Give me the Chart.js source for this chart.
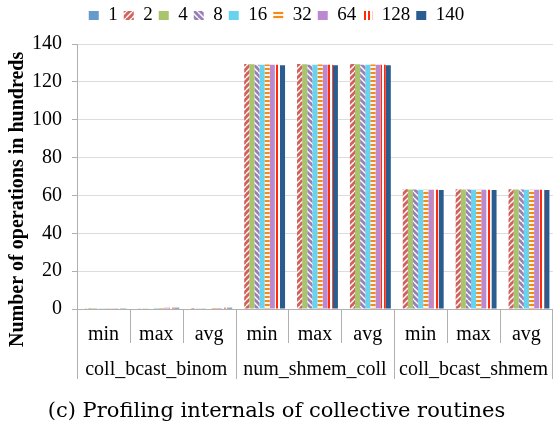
<!DOCTYPE html>
<html>
<head>
<meta charset="utf-8">
<script src="https://cdn.jsdelivr.net/npm/chart.js@4.4.0/dist/chart.umd.min.js"></script>
<style>
  html, body { margin: 0; padding: 0; background: #fff; }
  #wrap { width: 553px; height: 421px; }
</style>
</head>
<body>
<div id="wrap"><canvas id="chart"></canvas></div>
<script>
// categories (inner row) and groups (outer row)
const categories = ['min', 'max', 'avg', 'min', 'max', 'avg', 'min', 'max', 'avg'];
const groups = ['coll_bcast_binom', 'num_shmem_coll', 'coll_bcast_shmem'];
const seriesNames = ['1', '2', '4', '8', '16', '32', '64', '128', '140'];

// values per process count, in hundreds of operations
const p1   = [0,    0,    0,    0,     0,     0,     0,    0,    0];
const p2   = [0.05, 0.1,  0.05, 129.5, 129.4, 129.5, 63.2, 63.2, 63.2];
const p4   = [0.05, 0.15, 0.1,  129.3, 129.3, 129.3, 63.1, 63.1, 63.1];
const p8   = [0.1,  0.2,  0.15, 129.1, 129.1, 129.1, 63.1, 63.1, 63.1];
const p16  = [0.1,  0.5,  0.3,  129.0, 129.0, 129.0, 63.0, 63.0, 63.0];
const p32  = [0.1,  0.6,  0.5,  129.2, 129.2, 129.2, 63.0, 63.0, 63.0];
const p64  = [0.15, 0.6,  0.5,  129.0, 129.0, 129.0, 63.0, 63.0, 63.0];
const p128 = [0.15, 0.7,  0.6,  129.0, 129.0, 129.0, 63.0, 63.0, 63.0];
const p140 = [0.15, 0.7,  0.6,  128.8, 128.8, 128.8, 62.9, 62.9, 62.9];

const yTicks = [0, 20, 40, 60, 80, 100, 120, 140];
const yTitle = 'Number of operations in hundreds';

const serif = "'Liberation Serif', 'Times New Roman', serif";
const captionFont = "'DejaVu Serif', serif";

// small tiled patterns for the hatched series
function makePattern(w, h, draw) {
    const c = document.createElement('canvas');
    c.width = w; c.height = h;
    const g = c.getContext('2d');
    draw(g, w, h);
    return document.getElementById('chart').getContext('2d').createPattern(c, 'repeat');
}

const diagRed = makePattern(6, 6, function(g, w, h) {
    g.fillStyle = '#d0625e';
    g.fillRect(0, 0, w, h);
    g.strokeStyle = '#ffffff';
    g.lineWidth = 1.4;
    for (let k = -1; k <= 1; k++) {
        g.beginPath();
        g.moveTo(k * w, h);
        g.lineTo(k * w + w, 0);
        g.stroke();
    }
});

const diagPurple = makePattern(6, 6, function(g, w, h) {
    g.fillStyle = '#9880b8';
    g.fillRect(0, 0, w, h);
    g.strokeStyle = '#ffffff';
    g.lineWidth = 1.4;
    for (let k = -1; k <= 1; k++) {
        g.beginPath();
        g.moveTo(k * w, 0);
        g.lineTo(k * w + w, h);
        g.stroke();
    }
});

const horizOrange = makePattern(4, 4, function(g, w, h) {
    g.fillStyle = '#fff4e6';
    g.fillRect(0, 0, w, h);
    g.fillStyle = '#f28a1c';
    g.fillRect(0, 0, w, 2);
});

const vertRed = makePattern(4, 4, function(g, w, h) {
    g.fillStyle = '#ffffff';
    g.fillRect(0, 0, w, h);
    g.fillStyle = '#ff2a0a';
    g.fillRect(0, 0, 2, h);
});

const seriesValues = [p1, p2, p4, p8, p16, p32, p64, p128, p140];
const seriesFills = ['#6699cc', diagRed, '#a8c46c', diagPurple, '#66d3ef',
                     horizOrange, '#bc88cf', vertRed, '#2b5c8f'];

// separators between labels below the axis, plus the rotated y title
const axisExtras = {
    id: 'axisExtras',
    beforeInit(chart) {
        // leave some room under the legend row
        const fit = chart.legend.fit;
        chart.legend.fit = function() {
            fit.call(this);
            this.height += 9;
        };
    },
    afterDraw(chart) {
        const x = chart.scales.x;
        const x2 = chart.scales.x2;
        const ctx = chart.ctx;
        const step = (x.right - x.left) / categories.length;
        ctx.save();
        ctx.strokeStyle = '#b0b0b0';
        ctx.lineWidth = 1;
        for (let k = 0; k <= categories.length; k++) {
            let px = Math.round(x.left + k * step) + 0.5;
            px = Math.min(px, chart.width - 0.5);
            const bottom = (k % 3 === 0) ? x2.bottom - 1 : x.bottom - 2;
            ctx.beginPath();
            ctx.moveTo(px, x.top);
            ctx.lineTo(px, bottom);
            ctx.stroke();
        }

        ctx.translate(18, x.bottom + 2);
        ctx.rotate(-Math.PI / 2);
        ctx.fillStyle = '#000';
        ctx.font = 'bold 20px ' + serif;
        ctx.textAlign = 'left';
        ctx.textBaseline = 'middle';
        ctx.fillText(yTitle, 0, 0);
        ctx.restore();
    }
};

const ctx = document.getElementById('chart').getContext('2d');
new Chart(ctx, {
    type: 'bar',
    data: {
        labels: categories,
        datasets: seriesNames.map((name, i) => ({
            label: name,
            data: seriesValues[i],
            backgroundColor: seriesFills[i],
            borderWidth: 0,
            categoryPercentage: 0.87,
            barPercentage: 1.0
        }))
    },
    options: {
        responsive: true,
        maintainAspectRatio: false,
        animation: false,
        layout: { padding: 0 },
        plugins: {
            legend: {
                position: 'top',
                labels: {
                    boxWidth: 10,
                    boxHeight: 9,
                    padding: 6,
                    color: '#000',
                    font: { family: serif, size: 19 }
                }
            },
            title: {
                display: true,
                position: 'bottom',
                text: '(c) Profiling internals of collective routines',
                color: '#000',
                font: { family: captionFont, size: 21, weight: 'normal', lineHeight: 1 },
                padding: { top: 21, bottom: -1 }
            },
            tooltip: { enabled: false }
        },
        scales: {
            x: {
                offset: true,
                grid: { display: false },
                border: { display: true, color: '#b0b0b0' },
                ticks: {
                    color: '#000',
                    padding: 6,
                    maxRotation: 0,
                    autoSkip: false,
                    font: { family: serif, size: 20 }
                },
                afterFit(scale) { scale.height = 36; }
            },
            x2: {
                type: 'category',
                labels: groups,
                position: 'bottom',
                offset: true,
                grid: { display: false },
                border: { display: false },
                ticks: {
                    color: '#000',
                    padding: 5,
                    maxRotation: 0,
                    autoSkip: false,
                    font: { family: serif, size: 20 }
                },
                afterFit(scale) { scale.height = 35; }
            },
            y: {
                min: 0,
                max: 140,
                afterBuildTicks(scale) {
                    scale.ticks = yTicks.map(v => ({ value: v }));
                },
                afterFit(scale) { scale.width = 77; },
                grid: {
                    color: '#dcdcdc',
                    tickColor: '#b0b0b0',
                    tickLength: 5
                },
                border: { display: true, color: '#b0b0b0' },
                ticks: {
                    color: '#000',
                    padding: 10,
                    font: { family: serif, size: 20 }
                }
            }
        }
    },
    plugins: [axisExtras]
});
</script>
</body>
</html>
